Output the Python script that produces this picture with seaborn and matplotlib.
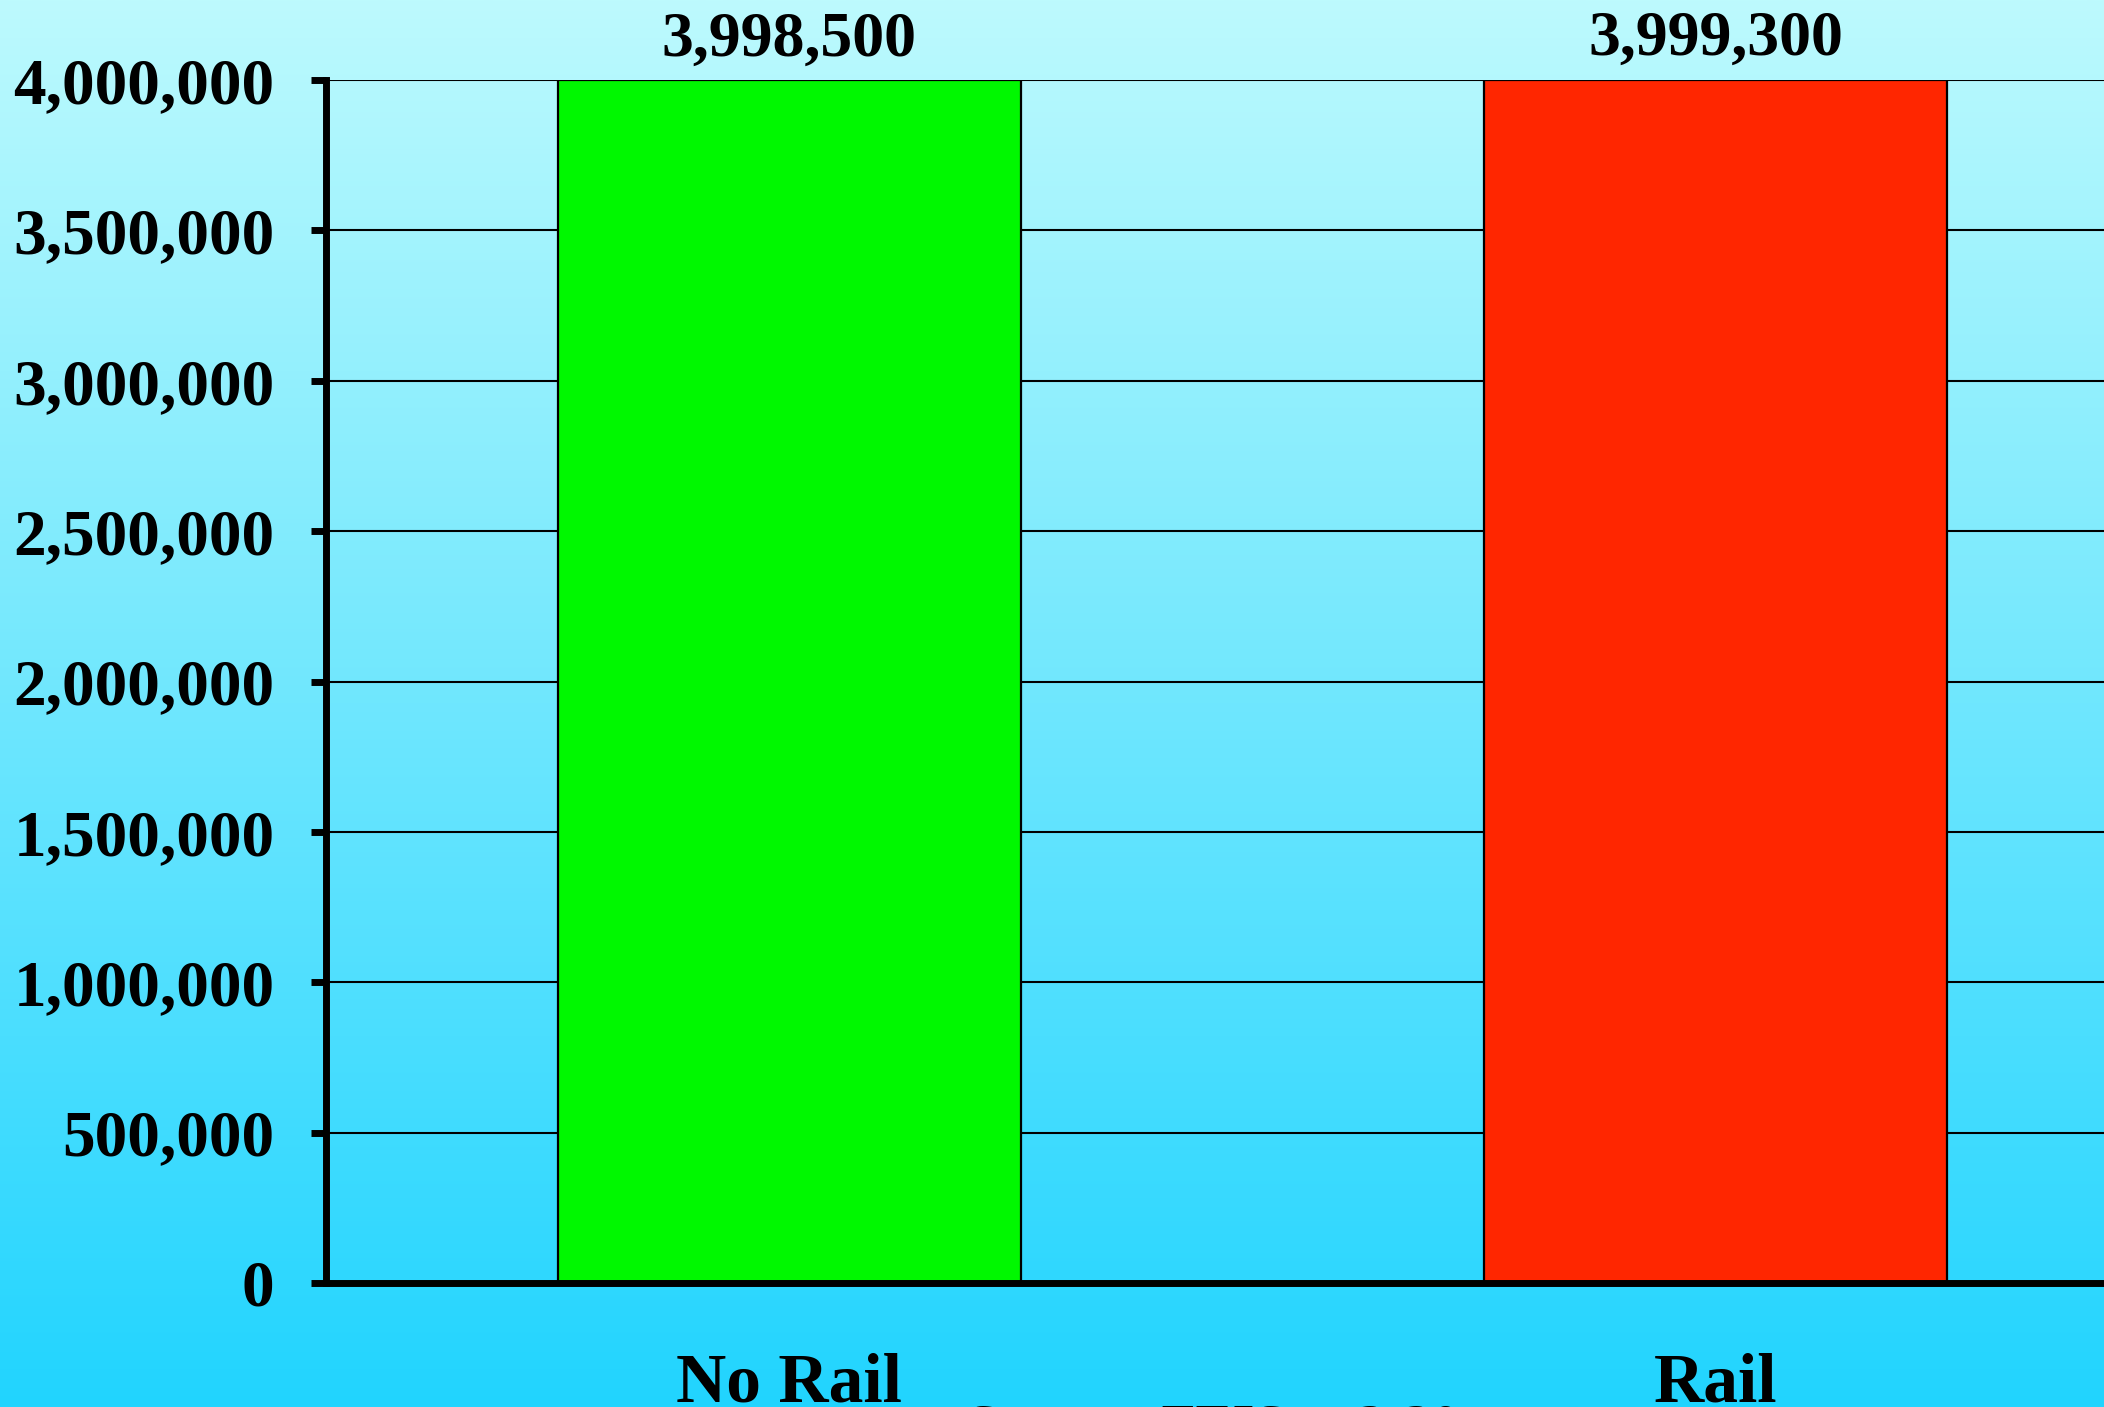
import numpy as np
import pandas as pd
import matplotlib
matplotlib.use("Agg")
import matplotlib.pyplot as plt
from matplotlib.ticker import FuncFormatter, MultipleLocator
import seaborn as sns

# Data
categories = ["No Rail", "Rail"]
values = [3998500, 3999300]
bar_colors = ["#00F800", "#FF2600"]
source_note = "Source: FEIS p. 2-20"

sns.set_theme(style="white")
plt.rcParams["font.family"] = ["Liberation Serif", "DejaVu Serif"]
plt.rcParams["font.weight"] = "bold"

W, H, DPI = 2104, 1407, 100
fig = plt.figure(figsize=(W / DPI, H / DPI), dpi=DPI)

# Vertical gradient backdrop, light cyan at the top to deeper sky blue at the bottom
bg = fig.add_axes([0, 0, 1, 1], zorder=-10)
top = np.array([189, 250, 253]) / 255.0
bot = np.array([33, 212, 255]) / 255.0
t = np.linspace(0, 1, 512)[:, None]
grad = (top[None, :] * (1 - t) + bot[None, :] * t)[:, None, :]
bg.imshow(grad, aspect="auto", extent=[0, 1, 0, 1], origin="upper")
bg.set_axis_off()

left_px, right_px, top_px, bottom_px = 326, 2104, 80, 1283
ax = fig.add_axes([left_px / W, 1 - bottom_px / H,
                   (right_px - left_px) / W, (bottom_px - top_px) / H])
ax.set_facecolor("none")

df = pd.DataFrame({"scenario": categories, "value": values})
sns.barplot(data=df, x="scenario", y="value", hue="scenario",
            palette=bar_colors, width=0.5, edgecolor="black",
            linewidth=1.6, saturation=1, legend=False, ax=ax)

ax.set_xlim(-0.5, 1.419)
ax.set_ylim(0, 4000000)
ax.yaxis.set_major_locator(MultipleLocator(500000))
ax.yaxis.set_major_formatter(FuncFormatter(lambda v, p: f"{v:,.0f}"))

ax.set_axisbelow(True)
ax.yaxis.grid(True, color="black", linewidth=1.5)
ax.xaxis.grid(False)

for side in ["top", "right"]:
    ax.spines[side].set_visible(False)
for side in ["left", "bottom"]:
    ax.spines[side].set_visible(True)
    ax.spines[side].set_color("black")
    ax.spines[side].set_linewidth(5)

ax.tick_params(axis="y", which="major", direction="out", length=11,
               width=5, color="black", pad=26, labelsize=47,
               labelcolor="black", left=True)
ax.tick_params(axis="x", length=0, pad=50, labelsize=50, labelcolor="black")
for lab in ax.get_yticklabels() + ax.get_xticklabels():
    lab.set_fontweight("bold")

ax.set_xlabel("")
ax.set_ylabel("")

# Value labels above each bar
for cont in ax.containers:
    ax.bar_label(cont, labels=[f"{v:,.0f}" for v in cont.datavalues],
                 padding=8, fontsize=46, fontweight="bold", color="black",
                 clip_on=False)

# Source line along the bottom edge
fig.text(967 / W, 1 - 1404 / H, source_note, ha="left", va="top",
         fontsize=40, fontweight="bold", color="black")

fig.savefig("out.png", dpi=DPI)
